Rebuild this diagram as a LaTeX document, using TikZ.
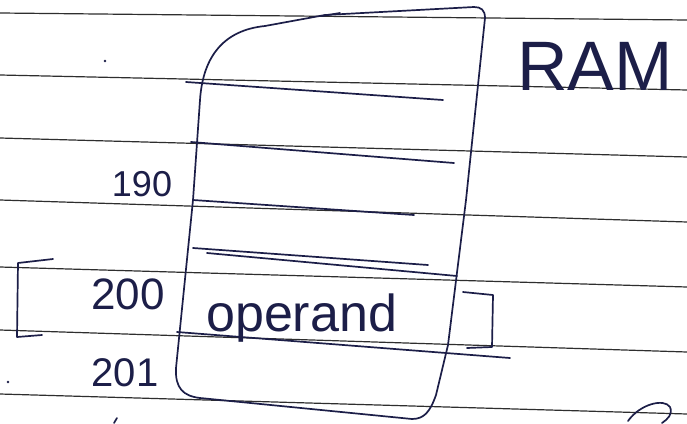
\documentclass[tikz,border=0pt]{standalone}
\usepackage{fontspec}
\setmainfont{Liberation Sans}
\definecolor{ink}{HTML}{1C1E48}
\definecolor{rule}{HTML}{2E2E2E}
\tikzset{
  paperline/.style={draw=rule, line width=1.2pt},
  pen/.style={draw=ink, line width=1.7pt, line cap=round, line join=round},
  hand/.style={text=ink, inner sep=0pt, font=\fontsize{36}{36}\selectfont},
}
\begin{document}
\begin{tikzpicture}[x=1pt,y=-1pt]
\useasboundingbox[fill=white] (0,0) rectangle (687,423);
% ruled paper lines
\draw[paperline] (0,13) -- (687,20);
\draw[paperline] (0,75) -- (687,90);
\draw[paperline] (0,138) -- (687,157);
\draw[paperline] (0,200) -- (687,222);
\draw[paperline] (0,267) -- (687,287);
\draw[paperline] (0,330) -- (687,352);
\draw[paperline] (0,394) -- (687,414);
% RAM outline
\draw[pen] (200,100) .. controls (203,55) and (225,30) .. (265,26)
  -- (325,15) -- (474,7) .. controls (481,7) and (485,10) .. (485,18)
  -- (466,200) -- (448,345) -- (436,395)
  .. controls (430,412) and (424,419) .. (412,419)
  -- (200,398) .. controls (183,396) and (175,388) .. (176,368)
  -- (193,200) -- cycle;
\draw[pen] (322,16) -- (340,13);
% row separators
\coordinate (r1a) at (186,82);  \coordinate (r1b) at (443,100);
\coordinate (r2a) at (191,142); \coordinate (r2b) at (454,163);
\coordinate (r3a) at (193,200); \coordinate (r3b) at (414,215);
\coordinate (r4a) at (193,248); \coordinate (r4b) at (428,265);
\coordinate (r5a) at (207,253); \coordinate (r5b) at (457,276);
\coordinate (r6a) at (177,332); \coordinate (r6b) at (510,358);
\draw[pen] (r1a) -- (r1b);
\draw[pen] (r2a) -- (r2b);
\draw[pen] (r3a) -- (r3b);
\draw[pen] (r4a) -- (r4b);
\draw[pen] (r5a) -- (r5b);
\draw[pen] (r6a) -- (r6b);
% bracket around row 200
\draw[pen] (53,259) -- (18,263) -- (17,337) -- (42,335);
\draw[pen] (463,292) -- (493,295) -- (492,347) -- (467,348);
% labels
\node[hand, anchor=base] (a190) at (142,196) {190};
\node[hand, anchor=base, font=\fontsize{44}{44}\selectfont] (a200) at (128,309) {200};
\node[hand, anchor=base, font=\fontsize{40}{40}\selectfont] (a201) at (125,386) {201};
\node[hand, anchor=base west, font=\fontsize{52}{52}\selectfont] (op) at (206,331) {operand};
\node[hand, anchor=base west, font=\fontsize{70}{70}\selectfont] (ram) at (517,90) {RAM};
% stray marks
\draw[pen] (628,421) .. controls (640,404) and (664,398) .. (670,407) .. controls (673,414) and (668,419) .. (662,423);
\fill[ink] (105,61) circle (1.3pt);
\fill[ink] (8,382) circle (1.3pt);
\draw[pen] (114,423) -- (117,418);
\end{tikzpicture}
\end{document}
